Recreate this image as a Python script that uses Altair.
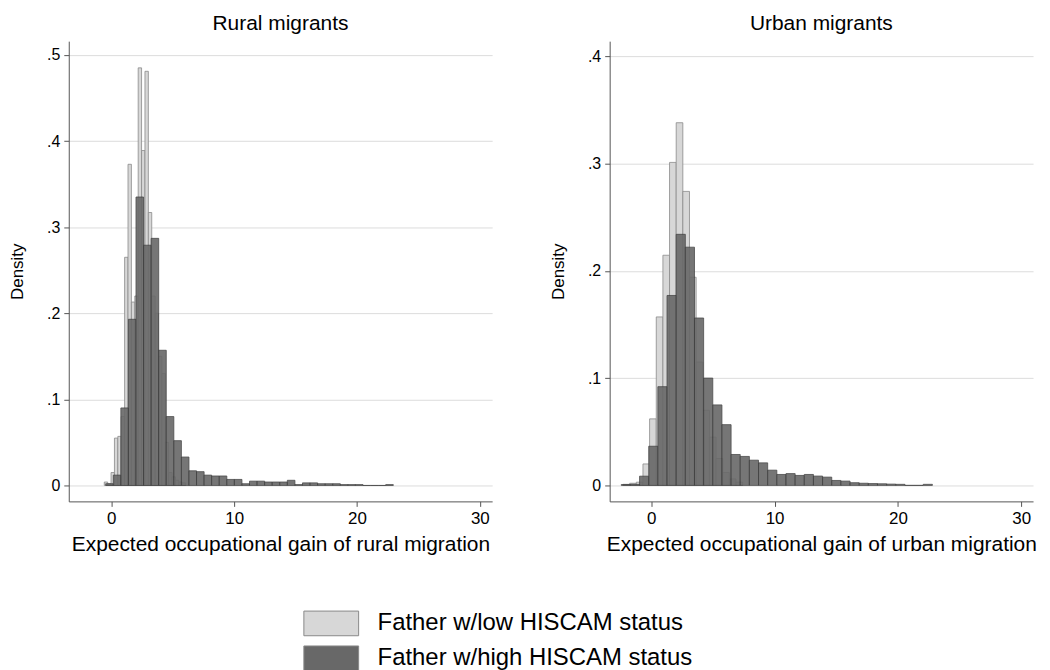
import altair as alt
import pandas as pd

SERIES = ["Father w/low HISCAM status", "Father w/high HISCAM status"]

# Rural migrants: histogram bins (start of first bin, bin width, densities)
rural_low_start, rural_low_width = -0.57, 0.276
rural_low = [0.004, 0.002, 0.015, 0.055, 0.057, 0.08, 0.265, 0.373, 0.213, 0.22,
             0.485, 0.389, 0.481, 0.317, 0.22, 0.20, 0.15, 0.13, 0.05, 0.015,
             0.01, 0.006, 0.004, 0.003]
rural_high_start, rural_high_width = -0.452, 0.616
rural_high = [0.002, 0.012, 0.090, 0.193, 0.335, 0.279, 0.287, 0.157, 0.080, 0.052,
              0.033, 0.017, 0.016, 0.012, 0.011, 0.011, 0.007, 0.007, 0.002, 0.005,
              0.005, 0.004, 0.004, 0.004, 0.006, 0.001, 0.003, 0.003, 0.002, 0.002,
              0.002, 0.001, 0.001, 0.001, 0.0, 0.0, 0.0, 0.001]

# Urban migrants
urban_low_start, urban_low_width = -2.288, 0.539
urban_low = [0.001, 0.002, 0.003, 0.02, 0.062, 0.157, 0.2145, 0.301, 0.338, 0.274,
             0.194, 0.115, 0.07, 0.045, 0.025, 0.012, 0.006, 0.003]
urban_high_start, urban_high_width = -2.429, 0.742
urban_high = [0.0008, 0.001, 0.0086, 0.0365, 0.092, 0.177, 0.234, 0.222, 0.156, 0.100,
              0.075, 0.0566, 0.0288, 0.027, 0.0235, 0.021, 0.0142, 0.0102, 0.011, 0.0093,
              0.0102, 0.0087, 0.0077, 0.0046, 0.004, 0.0025, 0.002, 0.0017, 0.0015, 0.0012,
              0.001, 0.0, 0.0, 0.001]

x_ticks = [0, 10, 20, 30]
FONT = "Liberation Sans"


def bins(start, width, heights, series):
    return pd.DataFrame({
        "x0": [start + i * width for i in range(len(heights))],
        "x1": [start + (i + 1) * width for i in range(len(heights))],
        "density": heights,
        "series": series,
    })


color = alt.Color(
    "series:N",
    scale=alt.Scale(domain=SERIES, range=["#d7d7d7", "#686868"]),
    legend=alt.Legend(
        title=None, orient="none", legendX=249, legendY=570, direction="vertical",
        symbolType="M-2,-0.9L2,-0.9L2,0.9L-2,0.9Z", symbolSize=756,
        symbolStrokeColor="#8a8a8a", symbolStrokeWidth=1, symbolOpacity=1,
        labelFontSize=24, labelFont=FONT, labelColor="#000", labelLimit=600,
        labelOffset=32, rowPadding=6,
    ),
)


def panel(title, xtitle, low, high, ydom, yvals, xdom):
    lab = "datum.value == 0 ? '0' : replace(format(datum.value, '.1f'), '0.', '.')"
    x = alt.X("x0:Q", scale=alt.Scale(domain=xdom, nice=False, zero=False),
              axis=alt.Axis(values=x_ticks, title=xtitle, grid=False, format="d",
                            labelFontSize=17, titleFontSize=21))
    y = alt.Y("density:Q", scale=alt.Scale(domain=ydom, nice=False, zero=False),
              axis=alt.Axis(values=yvals, title="Density", grid=True, labelExpr=lab))
    lo = alt.Chart(low).mark_bar(stroke="#8a8a8a", strokeWidth=0.8).encode(
        x=x, x2="x1:Q", y=y, y2=alt.datum(0), color=color)
    hi = alt.Chart(high).mark_bar(stroke="#3a3a3a", strokeWidth=0.8, opacity=0.9).encode(
        x=x, x2="x1:Q", y=y, y2=alt.datum(0), color=color)
    return alt.layer(lo, hi).properties(
        width=425, height=462,
        title=alt.Title(title, fontSize=21, font=FONT, fontWeight="normal", color="#000", offset=7),
    )


left = panel("Rural migrants", "Expected occupational gain of rural migration",
             bins(rural_low_start, rural_low_width, rural_low, SERIES[0]),
             bins(rural_high_start, rural_high_width, rural_high, SERIES[1]),
             [-0.0185, 0.516], [0, 0.1, 0.2, 0.3, 0.4, 0.5], [-3.46, 31.0])
right = panel("Urban migrants", "Expected occupational gain of urban migration",
              bins(urban_low_start, urban_low_width, urban_low, SERIES[0]),
              bins(urban_high_start, urban_high_width, urban_high, SERIES[1]),
              [-0.0149, 0.414], [0, 0.1, 0.2, 0.3, 0.4], [-3.37, 30.96])

chart = alt.hconcat(left, right, spacing=57).properties(
    padding={"left": 0, "top": 4, "right": 5, "bottom": 5}
).configure_view(stroke=None).configure_axis(
    labelFont=FONT, titleFont=FONT, labelFontSize=16, titleFontSize=17,
    labelColor="#000", titleColor="#000", titleFontWeight="normal",
    domainColor="#555", tickColor="#555", tickSize=5, gridColor="#dcdcdc",
    labelPadding=4,
).configure_axisY(
    labelAngle=0, titlePadding=20,
).configure_axisX(
    titlePadding=7,
)

chart.save("out.html", embed_options={"renderer": "svg", "actions": False})
